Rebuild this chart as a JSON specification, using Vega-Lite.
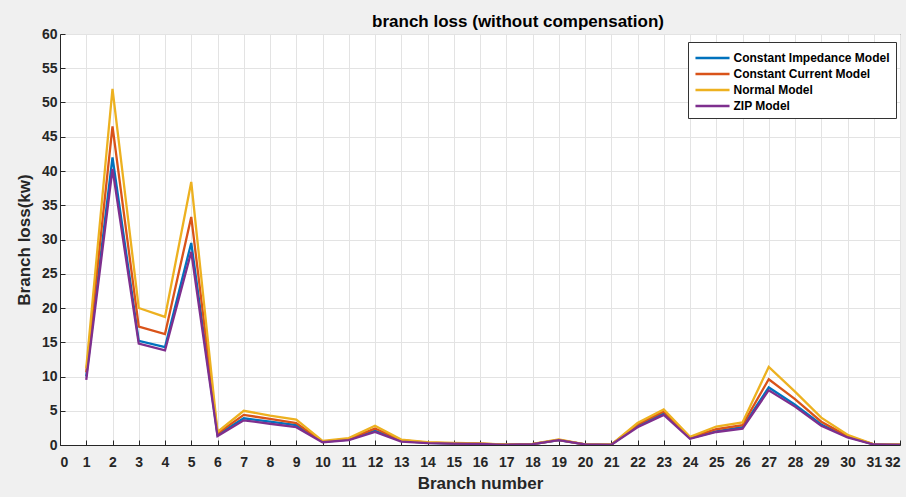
{
  "$schema": "https://vega.github.io/schema/vega-lite/v6.json",
  "width": 840,
  "height": 411,
  "autosize": "none",
  "padding": {"left": 60, "top": 34, "right": 6, "bottom": 52},
  "background": "#f0f0f0",
  "title": {"text": "branch loss (without compensation)", "fontSize": 17, "fontWeight": "bold", "font": "Liberation Sans", "color": "#000000", "offset": 4, "dx": 38, "dy": 8},
  "data": {"values": [
    {"b":1,"Constant Impedance Model":10.0,"Constant Current Model":10.6,"Normal Model":11.2,"ZIP Model":9.5},
    {"b":2,"Constant Impedance Model":42.0,"Constant Current Model":46.5,"Normal Model":52.0,"ZIP Model":40.3},
    {"b":3,"Constant Impedance Model":15.2,"Constant Current Model":17.3,"Normal Model":20.0,"ZIP Model":14.8},
    {"b":4,"Constant Impedance Model":14.3,"Constant Current Model":16.2,"Normal Model":18.7,"ZIP Model":13.8},
    {"b":5,"Constant Impedance Model":29.5,"Constant Current Model":33.3,"Normal Model":38.4,"ZIP Model":28.2},
    {"b":6,"Constant Impedance Model":1.5,"Constant Current Model":1.7,"Normal Model":1.9,"ZIP Model":1.3},
    {"b":7,"Constant Impedance Model":3.9,"Constant Current Model":4.4,"Normal Model":5.0,"ZIP Model":3.6},
    {"b":8,"Constant Impedance Model":3.4,"Constant Current Model":3.8,"Normal Model":4.3,"ZIP Model":3.1},
    {"b":9,"Constant Impedance Model":2.9,"Constant Current Model":3.2,"Normal Model":3.7,"ZIP Model":2.6},
    {"b":10,"Constant Impedance Model":0.45,"Constant Current Model":0.5,"Normal Model":0.6,"ZIP Model":0.4},
    {"b":11,"Constant Impedance Model":0.8,"Constant Current Model":0.9,"Normal Model":1.0,"ZIP Model":0.7},
    {"b":12,"Constant Impedance Model":2.1,"Constant Current Model":2.4,"Normal Model":2.8,"ZIP Model":1.9},
    {"b":13,"Constant Impedance Model":0.6,"Constant Current Model":0.7,"Normal Model":0.8,"ZIP Model":0.5},
    {"b":14,"Constant Impedance Model":0.3,"Constant Current Model":0.35,"Normal Model":0.4,"ZIP Model":0.28},
    {"b":15,"Constant Impedance Model":0.22,"Constant Current Model":0.25,"Normal Model":0.3,"ZIP Model":0.2},
    {"b":16,"Constant Impedance Model":0.17,"Constant Current Model":0.2,"Normal Model":0.22,"ZIP Model":0.15},
    {"b":17,"Constant Impedance Model":0.04,"Constant Current Model":0.04,"Normal Model":0.05,"ZIP Model":0.03},
    {"b":18,"Constant Impedance Model":0.12,"Constant Current Model":0.13,"Normal Model":0.15,"ZIP Model":0.11},
    {"b":19,"Constant Impedance Model":0.72,"Constant Current Model":0.75,"Normal Model":0.8,"ZIP Model":0.7},
    {"b":20,"Constant Impedance Model":0.08,"Constant Current Model":0.09,"Normal Model":0.1,"ZIP Model":0.08},
    {"b":21,"Constant Impedance Model":0.04,"Constant Current Model":0.04,"Normal Model":0.05,"ZIP Model":0.03},
    {"b":22,"Constant Impedance Model":2.8,"Constant Current Model":3.0,"Normal Model":3.2,"ZIP Model":2.6},
    {"b":23,"Constant Impedance Model":4.6,"Constant Current Model":4.9,"Normal Model":5.2,"ZIP Model":4.4},
    {"b":24,"Constant Impedance Model":1.0,"Constant Current Model":1.1,"Normal Model":1.2,"ZIP Model":0.9},
    {"b":25,"Constant Impedance Model":2.0,"Constant Current Model":2.3,"Normal Model":2.7,"ZIP Model":1.9},
    {"b":26,"Constant Impedance Model":2.6,"Constant Current Model":2.9,"Normal Model":3.3,"ZIP Model":2.4},
    {"b":27,"Constant Impedance Model":8.4,"Constant Current Model":9.6,"Normal Model":11.4,"ZIP Model":8.0},
    {"b":28,"Constant Impedance Model":5.9,"Constant Current Model":6.7,"Normal Model":7.8,"ZIP Model":5.6},
    {"b":29,"Constant Impedance Model":3.0,"Constant Current Model":3.4,"Normal Model":4.0,"ZIP Model":2.8},
    {"b":30,"Constant Impedance Model":1.2,"Constant Current Model":1.3,"Normal Model":1.5,"ZIP Model":1.1},
    {"b":31,"Constant Impedance Model":0.08,"Constant Current Model":0.09,"Normal Model":0.1,"ZIP Model":0.07},
    {"b":32,"Constant Impedance Model":0.04,"Constant Current Model":0.04,"Normal Model":0.05,"ZIP Model":0.03}
  ]},
  "transform": [
    {"fold": ["Constant Impedance Model", "Constant Current Model", "Normal Model", "ZIP Model"], "as": ["model", "loss"]}
  ],
  "mark": {"type": "line", "strokeWidth": 2.3, "clip": true},
  "encoding": {
    "x": {"field": "b", "type": "quantitative", "title": "Branch number",
      "scale": {"domain": [0, 32], "nice": false, "zero": false},
      "axis": {"values": [0,1,2,3,4,5,6,7,8,9,10,11,12,13,14,15,16,17,18,19,20,21,22,23,24,25,26,27,28,29,30,31,32], "format": "d"}},
    "y": {"field": "loss", "type": "quantitative", "title": "Branch loss(kw)",
      "scale": {"domain": [0, 60], "nice": false},
      "axis": {"values": [0,5,10,15,20,25,30,35,40,45,50,55,60]}},
    "color": {"field": "model", "type": "nominal",
      "scale": {"domain": ["Constant Impedance Model", "Constant Current Model", "Normal Model", "ZIP Model"], "range": ["#0072BD", "#D95319", "#EDB120", "#7E2F8E"]},
      "legend": {"title": null, "orient": "none", "legendX": 628, "legendY": 8}}
  },
  "config": {
    "view": {"fill": "#ffffff", "stroke": "#262626", "strokeWidth": 1},
    "axis": {
      "labelFont": "Liberation Sans", "labelFontSize": 14, "labelFontWeight": "bold", "labelColor": "#262626",
      "titleFont": "Liberation Sans", "titleFontSize": 17, "titleFontWeight": "bold", "titleColor": "#262626",
      "gridColor": "#e3e3e3", "gridWidth": 1, "domainColor": "#262626", "tickColor": "#262626", "tickSize": -5
    },
    "axisX": {"labelPadding": 15, "titlePadding": 6},
    "axisY": {"labelPadding": 8, "titlePadding": 8},
    "legend": {
      "fillColor": "#ffffff", "strokeColor": "#333333", "padding": 6,
      "symbolType": "M-2,0H2", "symbolSize": 290, "symbolStrokeWidth": 2.5, "symbolOffset": 8.5,
      "labelFont": "Liberation Sans", "labelFontSize": 12, "labelFontWeight": "bold", "labelColor": "#000000",
      "rowPadding": -2, "labelOffset": 11
    }
  }
}
